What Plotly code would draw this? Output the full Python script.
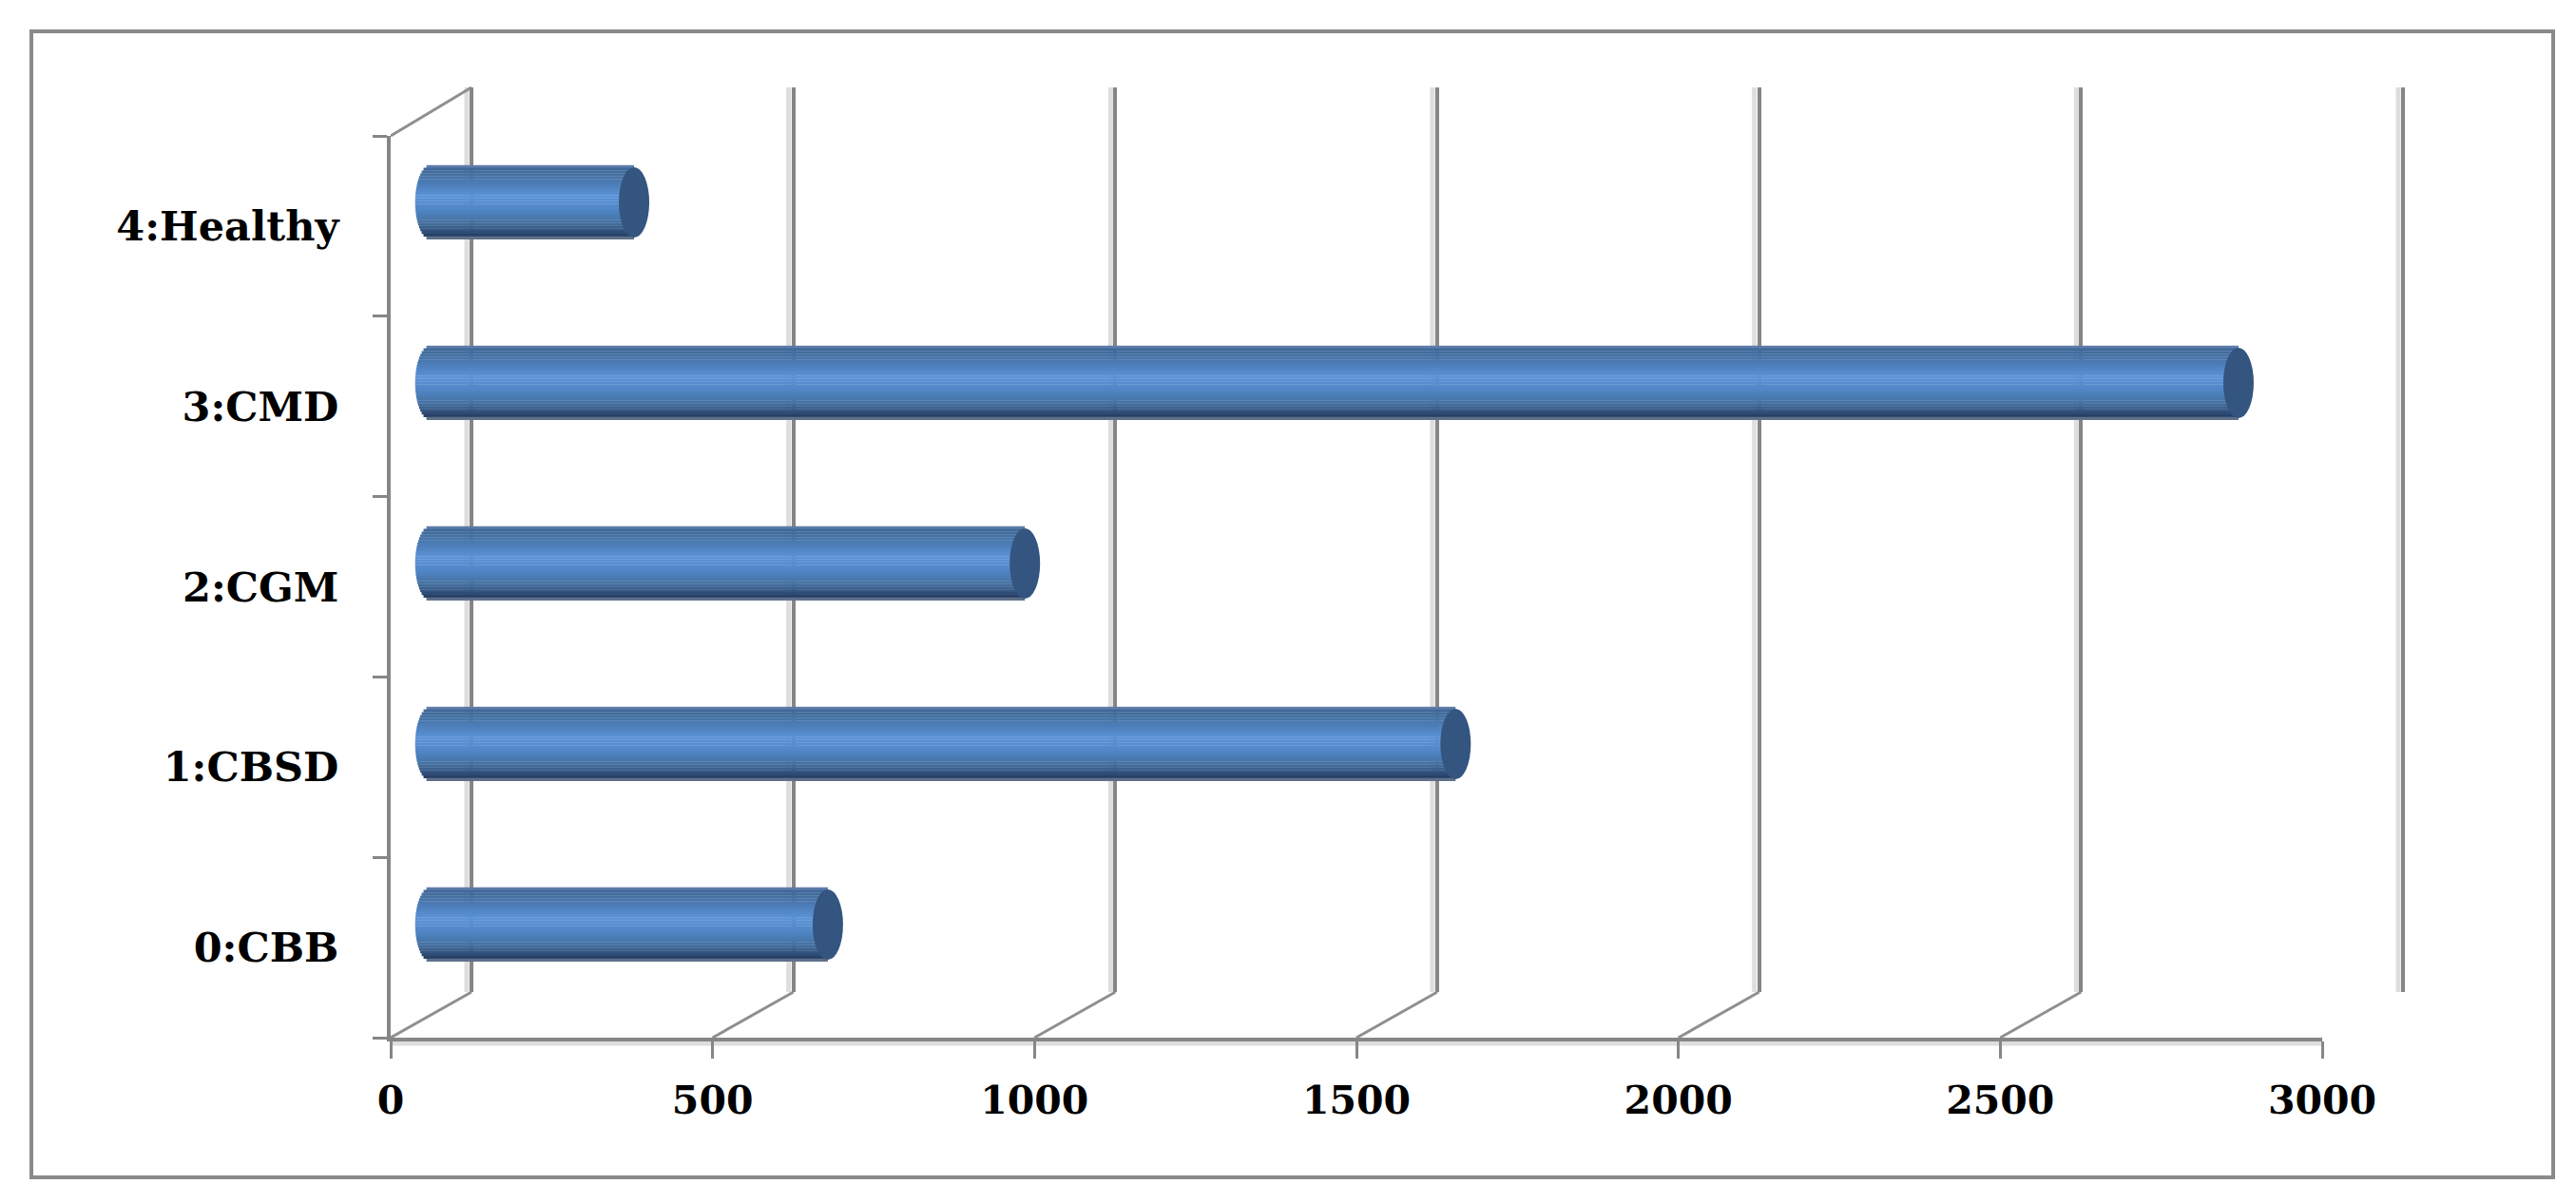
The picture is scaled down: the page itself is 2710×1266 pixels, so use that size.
# cassava_counts.py

import plotly.graph_objects as go

categories = ["0:CBB", "1:CBSD", "2:CGM", "3:CMD", "4:Healthy"]
counts = [617, 1592, 923, 2808, 316]
x_ticks = [0, 500, 1000, 1500, 2000, 2500, 3000]

WIDTH, HEIGHT = 2710, 1266
GRID = "#868686"
SHADOW = "#dedede"
FONT_Y = dict(family="DejaVu Serif", size=43, color="black", weight="bold")
FONT_X = dict(family="DejaVu Serif", size=41, color="black", weight="bold")

# fake 3D: back wall, front axes and the bar plane are separate axes pairs
DEPTH_X, DEPTH_Y = 85, 48
BAR_HEIGHT = 78 / 190  # in category slots
CAP_X = 16  # half width of the end ellipses, px
START_X = 24  # same for the rounded start, in data units
PAD = 30  # data units, keeps edge grid lines and bar starts inside the range
PAD_PX = PAD * 2032 / 3000

# top to bottom colours of the cylinder
BAND_STOPS = [
    (0.00, "#8ba0bd"), (0.03, "#3f659a"), (0.12, "#44709f"), (0.28, "#4f80bd"),
    (0.42, "#5b93d8"), (0.60, "#5086c6"), (0.78, "#44709f"), (0.90, "#2f4e78"),
    (0.97, "#23385a"), (1.00, "#c3cbd7"),
]
N_BANDS = 27


def hex_rgb(c):
    return [int(c[i:i + 2], 16) for i in (1, 3, 5)]


def band_colour(t):
    for (t0, c0), (t1, c1) in zip(BAND_STOPS, BAND_STOPS[1:]):
        if t <= t1:
            f = (t - t0) / (t1 - t0)
            rgb = [round(a + (b - a) * f) for a, b in zip(hex_rgb(c0), hex_rgb(c1))]
            return f"rgb({rgb[0]},{rgb[1]},{rgb[2]})"
    return BAND_STOPS[-1][1]


def dom_x(left, right):
    return [left / WIDTH, right / WIDTH]


def dom_y(top, bottom):
    return [1 - bottom / HEIGHT, 1 - top / HEIGHT]


fig = go.Figure()

# the axes need a trace to show up
for x_name, y_name in [("x", "y"), ("x2", "y2")]:
    fig.add_trace(go.Scatter(x=counts, y=categories, xaxis=x_name, yaxis=y_name,
                             mode="markers", marker=dict(opacity=0), hoverinfo="skip"))

# cylinder body, one thin bar per colour band
band = BAR_HEIGHT / N_BANDS
for i in range(N_BANDS):
    t = (i + 0.5) / N_BANDS
    start = -START_X * (1 - (2 * t - 1) ** 2) ** 0.5
    fig.add_trace(go.Bar(
        y=categories,
        x=[v - start for v in counts],
        base=start,
        orientation="h",
        width=band * 1.1,
        offset=BAR_HEIGHT / 2 - (i + 1) * band,
        marker=dict(color=band_colour(t), line=dict(width=0)),
        xaxis="x3",
        yaxis="y3",
        hoverinfo="skip",
    ))

shapes = []

# outer frame
shapes.append(dict(type="rect", xref="paper", yref="paper", x0=33 / WIDTH, x1=2686 / WIDTH,
                   y0=1 - 1239 / HEIGHT, y1=1 - 33 / HEIGHT,
                   line=dict(color="#8a8a8a", width=4), layer="below"))

# floor diagonals and the soft shadow left of each grid line
for t in x_ticks:
    shapes.append(dict(type="line", xref="x", yref="paper", xsizemode="pixel", xanchor=t,
                       x0=-5, x1=-5, y0=1 - 1044 / HEIGHT, y1=1 - 92 / HEIGHT,
                       line=dict(color=SHADOW, width=5), layer="below"))
    shapes.append(dict(type="line", xref="x2", yref="paper", xsizemode="pixel", xanchor=t,
                       x0=0, x1=DEPTH_X, ysizemode="pixel", yanchor=1 - 1092 / HEIGHT,
                       y0=0, y1=DEPTH_Y, line=dict(color="#8f8f8f", width=3), layer="below"))
shapes.append(dict(type="line", xref="x2", yref="paper", xsizemode="pixel", xanchor=0,
                   x0=0, x1=DEPTH_X, ysizemode="pixel", yanchor=1 - 143 / HEIGHT,
                   y0=0, y1=51, line=dict(color="#8f8f8f", width=3), layer="below"))
shapes.append(dict(type="line", xref="x2", yref="paper", xsizemode="pixel", xanchor=0,
                   x0=-5, x1=-5, y0=1 - 1092 / HEIGHT, y1=1 - 143 / HEIGHT,
                   line=dict(color=SHADOW, width=5), layer="below"))
shapes.append(dict(type="line", xref="x2", yref="paper", x0=0, x1=3000,
                   y0=1 - 1098 / HEIGHT, y1=1 - 1098 / HEIGHT,
                   line=dict(color=SHADOW, width=5), layer="below"))

# dark end caps
for name, v in zip(categories, counts):
    shapes.append(dict(type="circle", xref="x3", yref="y3", xsizemode="pixel", xanchor=v,
                       x0=-CAP_X, x1=CAP_X, ysizemode="pixel", yanchor=name,
                       y0=-37, y1=37, fillcolor="#33557f", line=dict(width=0)))

fig.update_layout(
    template="none",
    width=WIDTH,
    height=HEIGHT,
    margin=dict(l=0, r=0, t=0, b=0, pad=0),
    paper_bgcolor="white",
    plot_bgcolor="rgba(0,0,0,0)",
    barmode="overlay",
    showlegend=False,
    shapes=shapes,
    # back wall
    xaxis=dict(domain=dom_x(496 - PAD_PX, 2528 + PAD_PX), range=[-PAD, 3000 + PAD],
               tickvals=x_ticks, showgrid=True, gridcolor=GRID, gridwidth=4, zeroline=False,
               showline=False, showticklabels=False, ticks="", automargin=False),
    yaxis=dict(domain=dom_y(92, 1044), type="category", categoryorder="array",
               categoryarray=categories, range=[-0.5, 4.5], showgrid=False,
               zeroline=False, showline=False, showticklabels=False, ticks="", automargin=False),
    # front axes with the labels
    xaxis2=dict(domain=dom_x(411, 2443), range=[0, 3000], tickvals=x_ticks, anchor="y2",
                showgrid=False, zeroline=False, showline=True, linecolor=GRID, linewidth=4,
                ticks="outside", ticklen=18, tickwidth=3, tickcolor=GRID, tickfont=FONT_X,
                ticklabelstandoff=9, automargin=False),
    yaxis2=dict(domain=dom_y(143, 1092), type="category", categoryorder="array",
                categoryarray=categories, range=[-0.5, 4.5], anchor="x2", tickson="boundaries",
                showgrid=False, zeroline=False, showline=True, linecolor=GRID, linewidth=4,
                ticks="outside", ticklen=15, tickwidth=3, tickcolor=GRID, tickfont=FONT_Y,
                ticklabelstandoff=42, automargin=False),
    # plane the cylinders stand in
    xaxis3=dict(domain=dom_x(453 - PAD_PX, 2485), range=[-PAD, 3000], anchor="y3", visible=False),
    yaxis3=dict(domain=dom_y(118, 1068), type="category", categoryorder="array",
                categoryarray=categories, range=[-0.5, 4.5], anchor="x3", visible=False),
)

fig.write_html("out.html", config=dict(displayModeBar=False),
               post_script="document.body.style.margin = '0';")
